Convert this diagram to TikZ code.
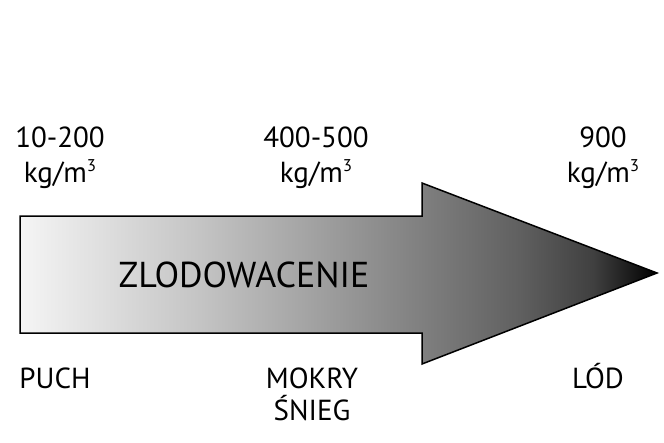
\documentclass[tikz,border=0pt]{standalone}
\usepackage{fontspec}
\setmainfont{PT Sans}
\pgfdeclarehorizontalshading{snowice}{100bp}{%
  color(0bp)=(white!96!black); color(25bp)=(white!96!black);
  color(39bp)=(white!77!black); color(47bp)=(white!65!black);
  color(56.5bp)=(white!50!black); color(64bp)=(white!38!black);
  color(70bp)=(white!25!black); color(75bp)=(black); color(100bp)=(black)}
\newcommand{\cubed}{\raisebox{0.36em}{\fontsize{17}{20}\selectfont 3}}
\begin{document}
\begin{tikzpicture}[x=1pt,y=-1pt,
  lbl/.style={font=\fontsize{29}{34}\selectfont, align=center, inner sep=0pt, anchor=base},
  arrowshape/.style={draw=black, line width=1.5pt, line join=miter, shading=snowice}]
\useasboundingbox (0,0) rectangle (664,442);
\coordinate (p1) at (20,216);
\coordinate (p2) at (422,216);
\coordinate (p3) at (422,183);
\coordinate (tip) at (657,273);
\coordinate (p5) at (422,364);
\coordinate (p6) at (422,333);
\coordinate (p7) at (20,333);
\path[arrowshape] (p1) -- (p2) -- (p3) -- (tip) -- (p5) -- (p6) -- (p7) -- cycle;
\node[lbl] (d1) at (60,147) {10-200};
\node[lbl] (u1) at (60,182) {kg/m\cubed};
\node[lbl] (d2) at (316,147) {400-500};
\node[lbl] (u2) at (316,182) {kg/m\cubed};
\node[lbl] (d3) at (603,147) {900};
\node[lbl] (u3) at (603,182) {kg/m\cubed};
\node[lbl, font=\fontsize{36}{42}\selectfont] (z) at (244,287) {ZLODOWACENIE};
\node[lbl] (s1) at (55,388) {PUCH};
\node[lbl] (s2) at (312,388) {MOKRY};
\node[lbl] (s2b) at (312,420) {ŚNIEG};
\node[lbl] (s3) at (598,388) {LÓD};
\end{tikzpicture}
\end{document}
